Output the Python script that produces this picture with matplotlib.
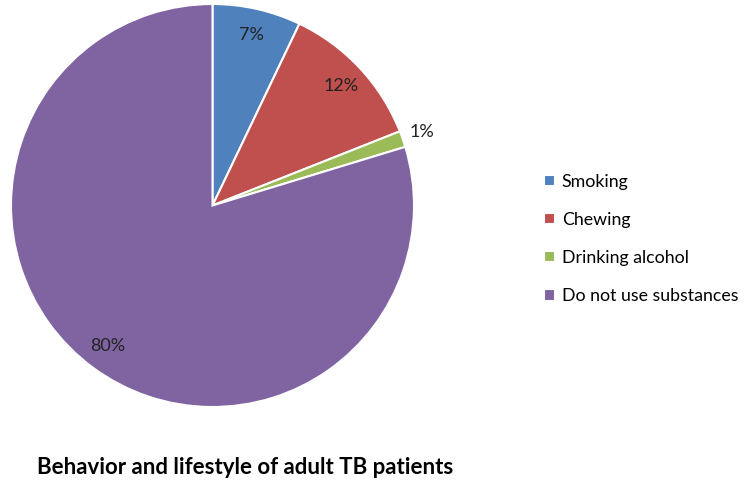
import numpy as np
import matplotlib
matplotlib.use('Agg')
import matplotlib.pyplot as plt

plt.rcParams['font.family'] = ['Lato', 'DejaVu Sans']

# 흡연/음주 등 생활 습관 비율
categories = ['Smoking', 'Chewing', 'Drinking alcohol', 'Do not use substances']
shares = [7.1, 11.9, 1.3, 79.7]
pct_labels = ['7%', '12%', '1%', '80%']
colors = ['#4F81BD', '#C0504D', '#9BBB59', '#8064A2']

fig = plt.figure(figsize=(7.5, 4.83), dpi=100)
ax = fig.add_axes([11 / 750, 76 / 483, 403 / 750, 403 / 483])

wedges, _ = ax.pie(shares, colors=colors, startangle=90, counterclock=False,
                   wedgeprops=dict(edgecolor='white', linewidth=1.5))
ax.set_xlim(-1, 1)
ax.set_ylim(-1, 1)
ax.set_aspect('equal')

# 퍼센트 라벨 (1%는 바깥쪽)
for w, lab in zip(wedges, pct_labels):
    mid = np.deg2rad((w.theta1 + w.theta2) / 2)
    r = 1.1 if lab == '1%' else 0.87
    ax.text(r * np.cos(mid), r * np.sin(mid), lab, ha='center', va='center',
            fontsize=13, color='#222222')

fig.legend(wedges, categories, loc='center left', bbox_to_anchor=(528 / 750, 1 - 239 / 483),
           frameon=False, fontsize=12.8, handlelength=0.6, handleheight=0.6,
           handletextpad=0.4, labelspacing=1.25)

fig.text(37 / 750, 1 - 467 / 483, 'Behavior and lifestyle of adult TB patients',
         fontsize=16, fontweight='bold', ha='left', va='center')

fig.savefig('out.png', dpi=100)
